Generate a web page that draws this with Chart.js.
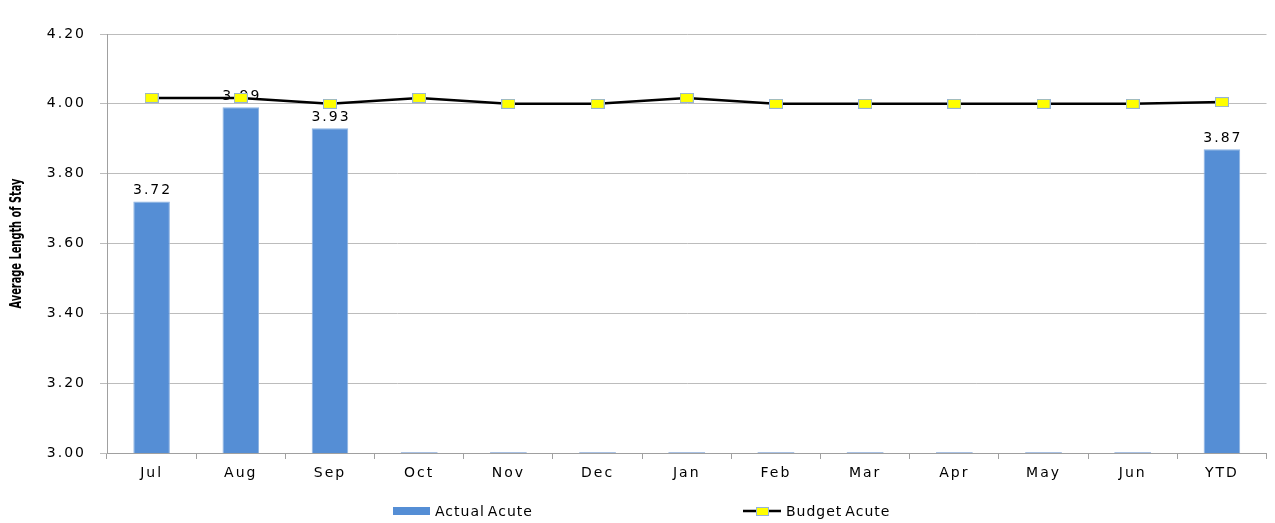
<!DOCTYPE html>
<html>
<head>
<meta charset="utf-8">
<script src="https://cdn.jsdelivr.net/npm/chart.js@4"></script>
<style>
  html, body { margin: 0; padding: 0; background: #fff; }
  #wrap { width: 1275px; height: 523px; position: relative; }
</style>
</head>
<body>
<div id="wrap"><canvas id="c" width="1275" height="523"></canvas></div>
<script>
// Average length of stay by month
const months = ['Jul', 'Aug', 'Sep', 'Oct', 'Nov', 'Dec', 'Jan', 'Feb', 'Mar', 'Apr', 'May', 'Jun', 'YTD'];
const actualAcute = [3.72, 3.99, 3.93, 0, 0, 0, 0, 0, 0, 0, 0, 0, 3.87];
const budgetAcute = [4.017, 4.017, 4.00, 4.017, 4.00, 4.00, 4.017, 4.00, 4.00, 4.00, 4.00, 4.00, 4.005];
const yTicks = [3.00, 3.20, 3.40, 3.60, 3.80, 4.00, 4.20];

const FONT = "'DejaVu Sans', Verdana, sans-serif";
const TITLE_FONT = "bold 15px 'DejaVu Sans Condensed', 'Liberation Sans Narrow', sans-serif";
const TITLE_LENGTH = 130;
const SPACING = '2px';
const BAR_COLOR = '#558ed5';
const BAR_EDGE = '#8db3e2';

// yellow rectangular marker used for the budget line
function makeMarker(w, h) {
  const m = document.createElement('canvas');
  m.width = w; m.height = h;
  const g = m.getContext('2d');
  g.fillStyle = '#ffff00';
  g.fillRect(0, 0, w, h);
  g.strokeStyle = '#95b3d7';
  g.lineWidth = 1;
  g.strokeRect(0.5, 0.5, w - 1, h - 1);
  return m;
}
const marker = makeMarker(14, 10);
const legendMarker = makeMarker(13, 9);

// wide lettering for all chart text
const spacing = {
  id: 'spacing',
  beforeDraw(chart) { chart.ctx.letterSpacing = SPACING; }
};

// value labels above the bars, drawn before the line so it sits on top;
// months without a value get a hairline on the baseline
const barLabels = {
  id: 'barLabels',
  afterDatasetDraw(chart, args) {
    if (args.index !== 0) return;
    const ctx = chart.ctx;
    const meta = chart.getDatasetMeta(0);
    const base = chart.scales.y.getPixelForValue(chart.scales.y.min);
    ctx.save();
    ctx.font = '14px ' + FONT;
    ctx.letterSpacing = SPACING;
    ctx.fillStyle = '#000';
    ctx.textAlign = 'center';
    ctx.textBaseline = 'bottom';
    meta.data.forEach((bar, i) => {
      const v = actualAcute[i];
      if (!v) {
        ctx.fillStyle = '#a9c1e3';
        ctx.fillRect(bar.x - bar.width / 2, base - 1, bar.width, 1);
        ctx.fillStyle = '#000';
        return;
      }
      ctx.fillText(v.toFixed(2), bar.x + 1, bar.y - 4);
    });
    ctx.restore();
  }
};

// vertical axis title and the legend along the bottom edge
const extras = {
  id: 'extras',
  afterDraw(chart) {
    const ctx = chart.ctx;
    const area = chart.chartArea;
    const title = 'Average Length of Stay';
    ctx.save();
    ctx.letterSpacing = '0px';
    ctx.font = TITLE_FONT;
    ctx.fillStyle = '#000';
    ctx.textAlign = 'center';
    ctx.textBaseline = 'middle';
    const w = ctx.measureText(title).width;
    ctx.translate(17, (area.top + area.bottom) / 2);
    ctx.rotate(-Math.PI / 2);
    ctx.scale(Math.min(1, TITLE_LENGTH / w), 1);
    ctx.fillText(title, 0, 0);
    ctx.restore();

    const y = 511;
    ctx.save();
    ctx.fillStyle = BAR_COLOR;
    ctx.fillRect(393, y - 4, 37, 8);
    ctx.font = '14px ' + FONT;
    ctx.letterSpacing = '1px';
    ctx.fillStyle = '#000';
    ctx.textBaseline = 'middle';
    ctx.textAlign = 'left';
    ctx.fillText('Actual', 435, y + 1);
    ctx.fillText('Acute', 435 + ctx.measureText('Actual').width + 3, y + 1);
    ctx.strokeStyle = '#000';
    ctx.lineWidth = 2.5;
    ctx.beginPath();
    ctx.moveTo(743, y);
    ctx.lineTo(781, y);
    ctx.stroke();
    ctx.drawImage(legendMarker, 756, y - 4);
    ctx.fillText('Budget', 786, y + 1);
    ctx.fillText('Acute', 786 + ctx.measureText('Budget').width + 3, y + 1);
    ctx.restore();
  }
};

new Chart(document.getElementById('c'), {
  data: {
    labels: months,
    datasets: [
      {
        type: 'bar',
        label: 'Actual Acute',
        data: actualAcute,
        backgroundColor: BAR_COLOR,
        borderColor: BAR_EDGE,
        borderWidth: 1,
        borderSkipped: 'bottom',
        barPercentage: 0.41,
        categoryPercentage: 1,
        order: 1
      },
      {
        type: 'line',
        label: 'Budget Acute',
        data: budgetAcute,
        borderColor: '#000',
        borderWidth: 2.5,
        tension: 0,
        pointStyle: marker,
        pointRadius: 6,
        order: 0
      }
    ]
  },
  options: {
    responsive: false,
    animation: false,
    events: [],
    layout: { padding: { top: 34, right: 6, left: 0, bottom: 0 } },
    plugins: { legend: { display: false }, tooltip: { enabled: false } },
    scales: {
      x: {
        offset: true,
        grid: { display: true, drawOnChartArea: false, drawTicks: true, tickLength: 6, color: '#a0a0a0', offset: true },
        border: { color: '#a0a0a0', width: 1 },
        ticks: { font: { family: FONT, size: 14 }, color: '#000', padding: 6, maxRotation: 0 },
        afterFit(scale) { scale.height = 70; }
      },
      y: {
        min: 3.0,
        max: 4.2,
        afterBuildTicks(scale) { scale.ticks = yTicks.map(v => ({ value: v })); },
        grid: { color: '#bcbcbc', tickLength: 7, lineWidth: 1 },
        border: { color: '#a0a0a0', width: 1 },
        ticks: {
          font: { family: FONT, size: 14 },
          color: '#000',
          padding: 14,
          callback: v => Number(v).toFixed(2)
        },
        afterFit(scale) { scale.width = 107; }
      }
    }
  },
  plugins: [spacing, barLabels, extras]
});
</script>
</body>
</html>
